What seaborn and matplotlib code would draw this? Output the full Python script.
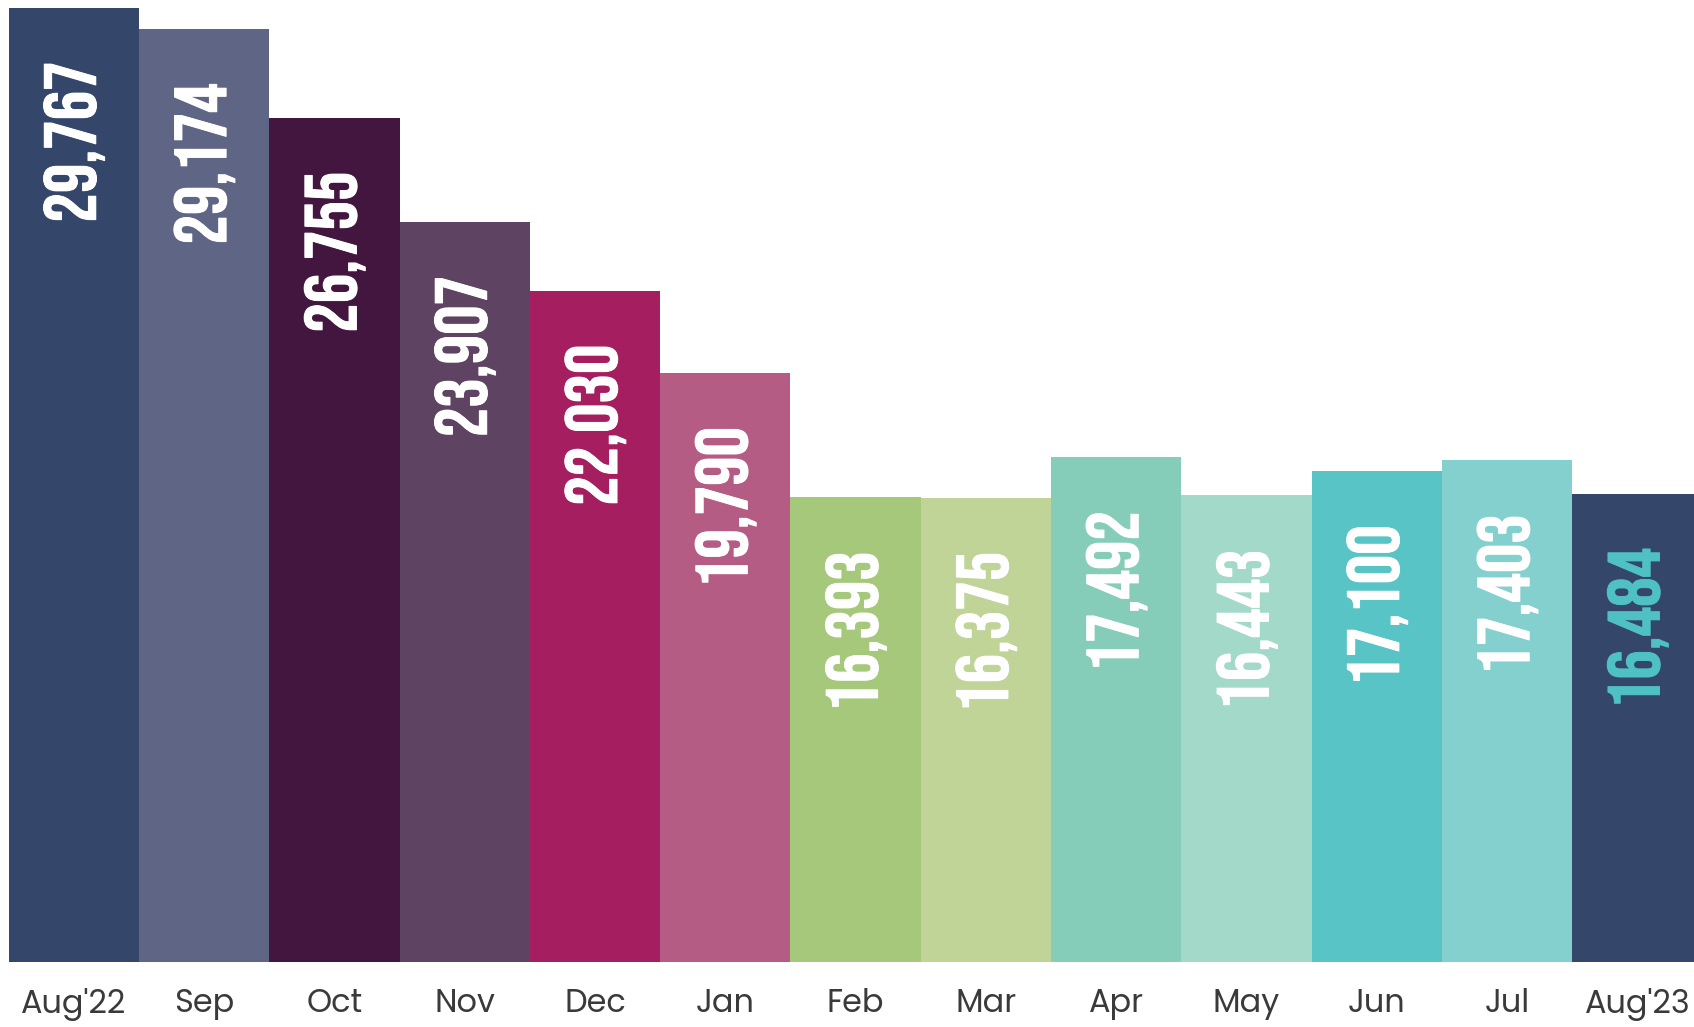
import matplotlib
matplotlib.use("Agg")
import matplotlib.pyplot as plt
import matplotlib.patheffects as pe
import seaborn as sns

months = ["Aug'22", "Sep", "Oct", "Nov", "Dec", "Jan", "Feb", "Mar", "Apr", "May", "Jun", "Jul", "Aug'23"]
values = [29767, 29174, 26755, 23907, 22030, 19790, 16393, 16375, 17492, 16443, 17100, 17403, 16484]
bar_colors = ["#34476b", "#5f6585", "#43163f", "#5e4462", "#a51e60", "#b55c84", "#a6c87a",
              "#c0d498", "#86cdb9", "#a3d9c8", "#58c4c6", "#84d0ce", "#34476b"]
label_colors = ["white"] * 12 + ["#4fc0c4"]

sns.set_theme(style="white")
plt.rcParams['font.family'] = ['Poppins', 'Lato', 'DejaVu Sans']

fig = plt.figure(figsize=(16.94, 10.27), dpi=100)
ax = fig.add_axes([0.0051, 0.0633, 1.0, 0.9293])

sns.barplot(x=months, y=values, hue=months, palette=bar_colors, legend=False,
            width=1.0, saturation=1, linewidth=0, ax=ax)

ax.set_xlim(-0.5, 12.5)
ax.set_ylim(3700, 29767)
sns.despine(ax=ax, left=True, bottom=True, top=True, right=True)
ax.set_yticks([])
ax.set_ylabel("")
ax.tick_params(axis="x", length=0, pad=19, labelsize=23, labelcolor="#3a3a3a")

# value labels, rotated, hanging from the top of each bar
for i, (v, c) in enumerate(zip(values, label_colors)):
    ax.annotate(f"{v:,}", xy=(i, v), xytext=(0, -39), textcoords="offset points",
                rotation=90, ha="center", va="top", color=c, fontsize=53,
                family=["Bebas Neue", "DejaVu Sans"], annotation_clip=False,
                path_effects=[pe.withStroke(linewidth=0.7, foreground=c)])

fig.savefig("out.png", dpi=100)
